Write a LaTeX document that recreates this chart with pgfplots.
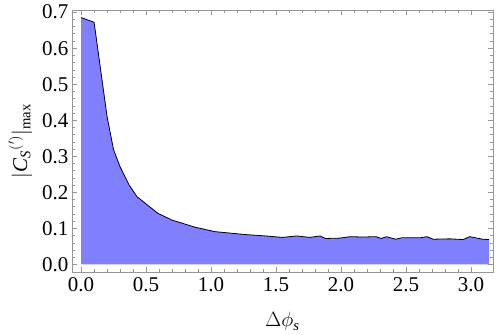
\documentclass[border=0pt]{standalone}
\usepackage{fontspec}
\setmainfont{Liberation Serif}
\usepackage{pgfplots}
\pgfplotsset{compat=1.18}
\usepackage{pgfplotstable}
\definecolor{fillblue}{RGB}{128,128,255}
\definecolor{framegray}{RGB}{150,150,150}
\newcommand{\lblfont}{\fontsize{21bp}{25bp}\selectfont}

% |C_S'|_max against Delta phi_s
\pgfplotstableread{
x y
0.00 0.685
0.10 0.672
0.20 0.410
0.25 0.318
0.30 0.271
0.37 0.220
0.43 0.188
0.50 0.168
0.59 0.142
0.70 0.123
0.88 0.103
1.03 0.091
1.26 0.083
1.42 0.079
1.55 0.075
1.66 0.079
1.76 0.075
1.84 0.079
1.88 0.072
1.99 0.073
2.07 0.077
2.17 0.076
2.27 0.077
2.31 0.072
2.35 0.077
2.42 0.070
2.47 0.074
2.61 0.074
2.66 0.077
2.71 0.070
2.84 0.071
2.94 0.069
2.99 0.077
3.09 0.070
3.14 0.069
}\csmax

\begin{document}
\begin{tikzpicture}
\begin{axis}[
  scale only axis,
  width=421bp,height=262bp,
  xmin=-0.07,xmax=3.17,
  ymin=-0.021,ymax=0.706,
  xtick={0,0.5,...,3},
  ytick={0,0.1,...,0.7},
  minor tick num=4,
  tick align=inside,
  major tick length=5bp,
  minor tick length=3bp,
  every tick/.style={framegray,line width=0.6bp},
  axis line style={framegray,line width=0.8bp},
  xticklabels={0.0,0.5,1.0,1.5,2.0,2.5,3.0},
  yticklabels={0.0,0.1,0.2,0.3,0.4,0.5,0.6,0.7},
  tick label style={font=\lblfont,black},
  xticklabel style={yshift=-2bp},
  label style={font=\lblfont},
  xlabel shift=14bp,
  ylabel shift=3bp,
  xlabel={$\Delta\phi_{\mathit{s}}$},
  ylabel={$|\mathit{C}_{\mathit{S}}{}^{(\mathrm{'})}|_{\mathrm{max}}$},
]
\addplot[draw=none,fill=fillblue] table[x=x,y=y]{\csmax} \closedcycle;
\addplot[black,line width=0.8bp] table[x=x,y=y]{\csmax};
\end{axis}
\pgfresetboundingbox
\path ([shift={(-72bp,-63bp)}]current axis.south west) rectangle ([shift={(7bp,10bp)}]current axis.north east);
\end{tikzpicture}
\end{document}
